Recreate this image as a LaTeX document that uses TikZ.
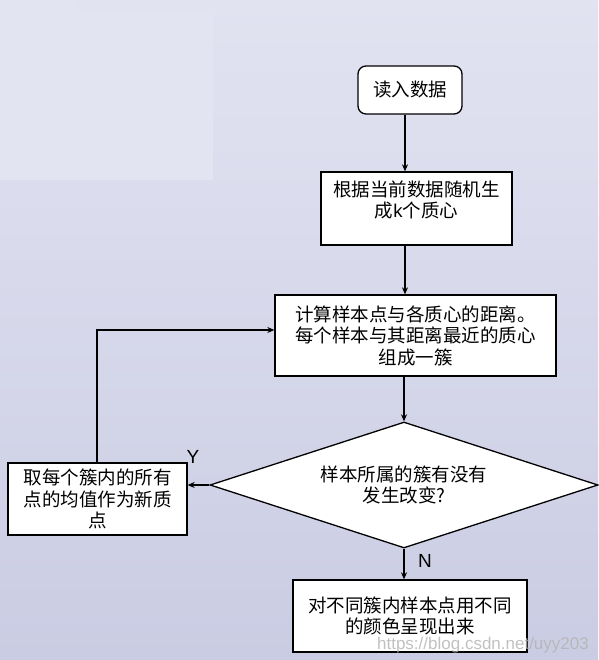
\documentclass[tikz,border=0pt]{standalone}
\usepackage{fontspec}
\setmainfont{Liberation Sans}
\newfontfamily\cjk{Noto Sans CJK SC}
\usetikzlibrary{shapes.geometric,arrows.meta}
\definecolor{bgtop}{RGB}{226,227,241}
\definecolor{bgbot}{RGB}{202,204,227}
\definecolor{bgpanel}{RGB}{226,228,241}
\begin{document}
\begin{tikzpicture}[x=1pt,y=1pt,
	box/.style={draw,line width=1.3pt,fill=white,align=center,inner sep=0pt,font=\cjk\fontsize{18.5}{21.5}\selectfont},
	flow/.style={line width=1.3pt,-{Stealth[length=7pt,width=6pt]}},
	branchlabel/.style={font=\fontsize{19}{19}\selectfont}]
	\useasboundingbox (0,0) rectangle (598,660);
	\shade[top color=bgtop,bottom color=bgbot] (0,0) rectangle (598,660);
	\fill[bgpanel] (0,480) rectangle (213,646);
	\fill[bgpanel] (0,646) rectangle (78,660);

	\coordinate (spine) at (405,0);
	\node[box,rounded corners=8pt,minimum width=104,minimum height=48] (start) at (410,570) {读入数据};
	\node[box,minimum width=191,minimum height=73,text depth=19pt] (init) at (416.5,451.5) {根据当前数据随机生\\成{\rmfamily k}个质心};
	\node[box,minimum width=281,minimum height=81] (assign) at (415.5,324.5) {计算样本点与各质心的距离。\\每个样本与其距离最近的质心\\组成一簇};
	\node[box,diamond,shape aspect=3.08,minimum width=388,minimum height=126] (check) at (404,175) {样本所属的簇有没有\\发生改变?};
	\node[box,minimum width=179,minimum height=72] (update) at (97.5,161) {取每个簇内的所有\\点的均值作为新质\\点};
	\node[box,minimum width=234,minimum height=72] (show) at (410,44) {对不同簇内样本点用不同\\的颜色呈现出来};

	\coordinate (back) at (97,330);
	\draw[flow] (start.south -| spine) -- (init.north -| spine);
	\draw[flow] (init.south -| spine) -- (assign.north -| spine);
	\draw[flow] (assign.south -| check.north) -- (check.north);
	\draw[flow] (check.west) -- (check.west -| update.east);
	\draw[flow] (update.north -| back) -- (back) -- (back -| assign.west);
	\draw[flow] (check.south) -- (check.south |- show.north);

	\node[branchlabel] (yes) at (193,203) {Y};
	\node[branchlabel] (no) at (425,99) {N};
	\node[font=\fontsize{17}{17}\selectfont,text=black!30,text opacity=0.8,anchor=east,inner sep=0pt] (src) at (589,15) {https://blog.csdn.net/uyy203};
\end{tikzpicture}
\end{document}
